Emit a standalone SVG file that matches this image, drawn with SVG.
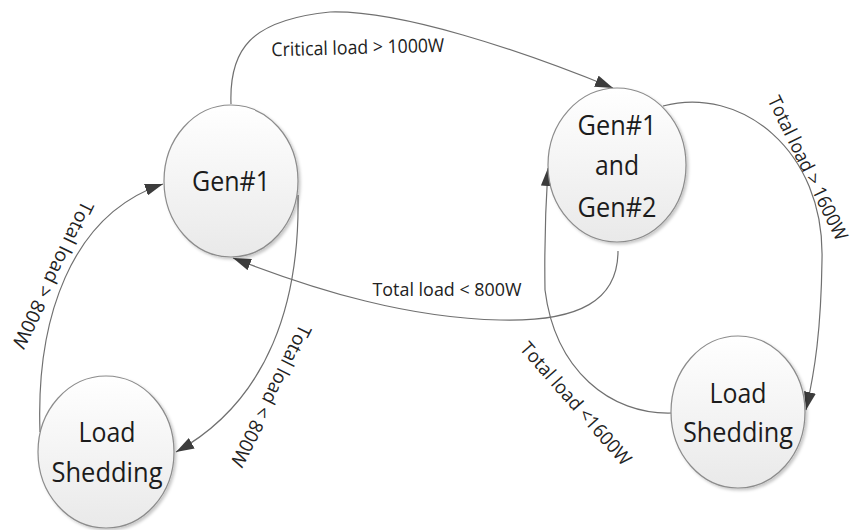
<svg xmlns="http://www.w3.org/2000/svg" width="858" height="530" viewBox="0 0 858 530">
  <style>
    .state { fill: url(#stateFill); stroke: #8c8c8c; stroke-width: 1.2; filter: url(#soft); }
    .name { font-family: "Open Sans", "Noto Sans", "Liberation Sans", sans-serif; font-size: 28px; fill: #1c1c1c; text-anchor: middle; }
    .edge { fill: none; stroke: #707070; stroke-width: 1.2; marker-end: url(#head); }
    .cond { font-family: "Open Sans", "Noto Sans", "Liberation Sans", sans-serif; font-size: 19px; fill: #222222; text-anchor: middle; }
  </style>
  <defs>
    <linearGradient id="stateFill" x1="0" y1="0" x2="0" y2="1">
      <stop offset="0" stop-color="#ffffff"/>
      <stop offset="1" stop-color="#e9e9e9"/>
    </linearGradient>
    <filter id="soft" x="-10%" y="-10%" width="125%" height="125%">
      <feDropShadow dx="2" dy="2" stdDeviation="1.5" flood-color="#000" flood-opacity="0.22"/>
    </filter>
    <marker id="head" viewBox="0 0 18 12" refX="18" refY="6" markerWidth="18" markerHeight="12" markerUnits="userSpaceOnUse" orient="auto">
      <path d="M0,0 L18,6 L0,12 z" fill="#3c3c3c"/>
    </marker>
  </defs>

  <rect width="858" height="530" fill="#ffffff"/>

  <!-- transitions -->
  <g id="connectors">
    <path class="edge" d="M231,104 C229,50 250,20 330,12 C400,10 520,50 613,88"/>
    <path class="edge" d="M618,251 C618,300 580,322 500,320 C410,318 320,292 233,258"/>
    <path class="edge" d="M298,195 C300,300 270,400 176,452"/>
    <path class="edge" d="M40,432 C36,320 70,215 163,184"/>
    <path class="edge" d="M663,106 C740,85 825,150 822,260 C821,330 815,370 806,410"/>
    <path class="edge" d="M672,413 C610,415 555,370 545,290 C544,230 546,200 548,168"/>

    <text class="cond" transform="translate(358,54) rotate(-1.5)" textLength="173" lengthAdjust="spacingAndGlyphs">Critical load &gt; 1000W</text>
    <text class="cond" x="447" y="296" textLength="149" lengthAdjust="spacingAndGlyphs">Total load &lt; 800W</text>
    <text class="cond" transform="translate(265,393) rotate(116.6)" textLength="156" lengthAdjust="spacingAndGlyphs">Total load &lt; 800W</text>
    <text class="cond" transform="translate(47,272) rotate(116)" textLength="161" lengthAdjust="spacingAndGlyphs">Total load &gt; 800W</text>
    <text class="cond" transform="translate(802,171) rotate(64)" textLength="158" lengthAdjust="spacingAndGlyphs">Total load &gt; 1600W</text>
    <text class="cond" transform="translate(571,408) rotate(48.6)" textLength="157" lengthAdjust="spacingAndGlyphs">Total load &lt;1600W</text>
  </g>

  <!-- states -->
  <g id="gen1">
    <ellipse class="state" cx="231" cy="181" rx="67" ry="76"/>
    <text class="name" x="231" y="191" textLength="78" lengthAdjust="spacingAndGlyphs">Gen#1</text>
  </g>
  <g id="gen1-gen2">
    <ellipse class="state" cx="617" cy="165" rx="69" ry="77"/>
    <text class="name" x="617" y="135" textLength="79" lengthAdjust="spacingAndGlyphs">Gen#1</text>
    <text class="name" x="617" y="175" textLength="44" lengthAdjust="spacingAndGlyphs">and</text>
    <text class="name" x="617" y="217" textLength="79" lengthAdjust="spacingAndGlyphs">Gen#2</text>
  </g>
  <g id="shedding-left">
    <ellipse class="state" cx="106" cy="452" rx="68" ry="76"/>
    <text class="name" x="107" y="442" textLength="57" lengthAdjust="spacingAndGlyphs">Load</text>
    <text class="name" x="107" y="482" textLength="111" lengthAdjust="spacingAndGlyphs">Shedding</text>
  </g>
  <g id="shedding-right">
    <ellipse class="state" cx="738" cy="412" rx="67" ry="76"/>
    <text class="name" x="738" y="403" textLength="57" lengthAdjust="spacingAndGlyphs">Load</text>
    <text class="name" x="738" y="442" textLength="110" lengthAdjust="spacingAndGlyphs">Shedding</text>
  </g>
</svg>
